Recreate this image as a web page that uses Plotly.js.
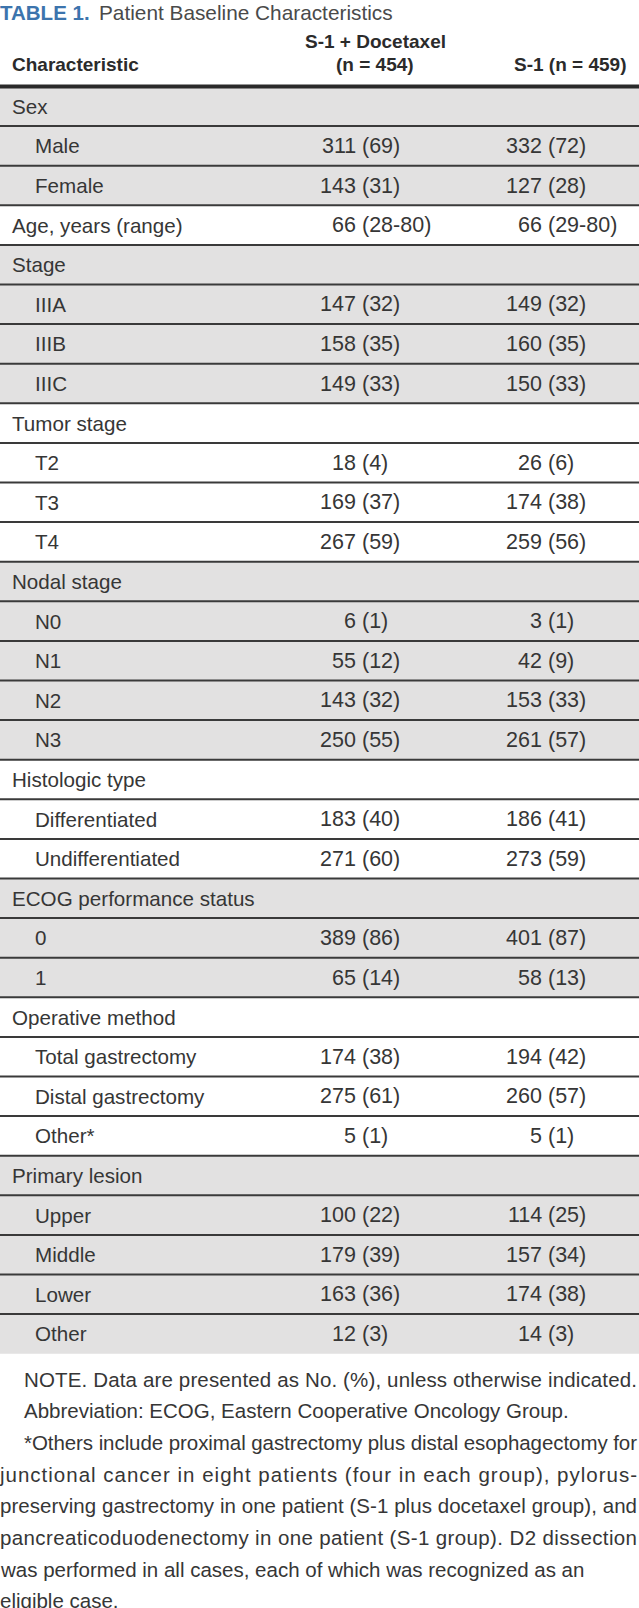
<!DOCTYPE html>
<html>
<head>
<meta charset="utf-8">
<script src="https://cdn.plot.ly/plotly-3.0.1.min.js"></script>
<style>html,body{margin:0;padding:0;background:#fff}#chart{width:639px;height:1608px}</style>
</head>
<body>
<div id="chart"></div>
<script>
// ---------------- DATA ----------------
const titleLabel = "TABLE 1.";
const titleText = "Patient Baseline Characteristics";
const headerCharacteristic = "Characteristic";
const headerCombo = ["S-1 + Docetaxel", "(n = 454)"];
const headerMono = "S-1 (n = 459)";

const characteristics = ["Sex","Male","Female","Age, years (range)","Stage","IIIA","IIIB","IIIC",
  "Tumor stage","T2","T3","T4","Nodal stage","N0","N1","N2","N3",
  "Histologic type","Differentiated","Undifferentiated","ECOG performance status","0","1",
  "Operative method","Total gastrectomy","Distal gastrectomy","Other*",
  "Primary lesion","Upper","Middle","Lower","Other"];
const indentLevel = [0,1,1,0,0,1,1,1,0,1,1,1,0,1,1,1,1,0,1,1,0,1,1,0,1,1,1,0,1,1,1,1];
const groupIndex  = [0,0,0,1,2,2,2,2,3,3,3,3,4,4,4,4,4,5,5,5,6,6,6,7,7,7,7,8,8,8,8,8];

const comboCount = ["","311","143","66","","147","158","149","","18","169","267","","6","55","143","250",
  "","183","271","","389","65","","174","275","5","","100","179","163","12"];
const comboPct = ["","(69)","(31)","(28-80)","","(32)","(35)","(33)","","(4)","(37)","(59)","","(1)","(12)","(32)","(55)",
  "","(40)","(60)","","(86)","(14)","","(38)","(61)","(1)","","(22)","(39)","(36)","(3)"];
const monoCount = ["","332","127","66","","149","160","150","","26","174","259","","3","42","153","261",
  "","186","273","","401","58","","194","260","5","","114","157","174","14"];
const monoPct = ["","(72)","(28)","(29-80)","","(32)","(35)","(33)","","(6)","(38)","(56)","","(1)","(9)","(33)","(57)",
  "","(41)","(59)","","(87)","(13)","","(42)","(57)","(1)","","(25)","(34)","(38)","(3)"];

const footnoteLines = [
  "NOTE. Data are presented as No. (%), unless otherwise indicated.",
  "Abbreviation: ECOG, Eastern Cooperative Oncology Group.",
  "*Others include proximal gastrectomy plus distal esophagectomy for",
  "junctional cancer in eight patients (four in each group), pylorus-",
  "preserving gastrectomy in one patient (S-1 plus docetaxel group), and",
  "pancreaticoduodenectomy in one patient (S-1 group). D2 dissection",
  "was performed in all cases, each of which was recognized as an",
  "eligible case."
];
const footnoteIndent = [1,1,1,0,0,0,0,0];
const footnoteJustify = [1,0,1,1,1,1,0,0];

// ---------------- LAYOUT ----------------
const W = 639, H = 1608;
const tableTopPx = 86.5, rowPx = 39.6;
const pxToRow = p => (p - tableTopPx) / rowPx - 0.5;
const nRows = characteristics.length;

const FONT = "Liberation Sans, Arial, sans-serif";
const labelFont = {family: FONT, size: 20.6, color: "#363636"};
const valueFont = {family: FONT, size: 21.5, color: "#363636"};
const footFont = {family: FONT, size: 20.5, color: "#363636"};
const boldFont = {family: FONT, size: 19, color: "#2b2b2b", weight: "bold"};
const grayFill = "#e2e1e1";
const lineColor = "#3a3a3a";

const shapes = [];
const annotations = [];

// row backgrounds (alternating by group)
for (let i = 0; i < nRows; i++) {
  if (groupIndex[i] % 2 === 0) {
    shapes.push({type: "rect", xref: "x", yref: "y", x0: 0, x1: W, y0: i - 0.5, y1: i + 0.5,
      fillcolor: grayFill, line: {width: 0}, layer: "below"});
  }
}
// row separators
for (let i = 0; i < nRows - 1; i++) {
  shapes.push({type: "line", xref: "x", yref: "y", x0: 0, x1: W, y0: i + 0.5, y1: i + 0.5,
    line: {color: lineColor, width: 2}});
}
// header rule
shapes.push({type: "line", xref: "x", yref: "y", x0: 0, x1: W, y0: -0.5, y1: -0.5,
  line: {color: "#2a2a2a", width: 4}});

function ann(x, y, text, xanchor, font) {
  annotations.push({xref: "x", yref: "y", x: x, y: y, text: text, xanchor: xanchor, yanchor: "middle",
    showarrow: false, font: font, borderpad: 0, borderwidth: 0});
}

// title
ann(0, pxToRow(12.5), "<b>" + titleLabel + "</b>", "left", {family: FONT, size: 20.5, color: "#3c74ad", weight: "bold"});
ann(99, pxToRow(12.5), titleText, "left", {family: FONT, size: 20.8, color: "#4a4a4a"});

// header
ann(12, pxToRow(64), "<b>" + headerCharacteristic + "</b>", "left", boldFont);
ann(375, pxToRow(41), "<b>" + headerCombo[0] + "</b>", "center", boldFont);
ann(375, pxToRow(64), "<b>" + headerCombo[1] + "</b>", "center", boldFont);
ann(626, pxToRow(64), "<b>" + headerMono + "</b>", "right", boldFont);

// body
const col2Split = 359, col3Split = 545, gap = 6;
for (let i = 0; i < nRows; i++) {
  ann(indentLevel[i] ? 35 : 12, i, characteristics[i], "left", labelFont);
  if (comboCount[i]) {
    ann(col2Split - gap / 2, i, comboCount[i], "right", valueFont);
    ann(col2Split + gap / 2, i, comboPct[i], "left", valueFont);
  }
  if (monoCount[i]) {
    ann(col3Split - gap / 2, i, monoCount[i], "right", valueFont);
    ann(col3Split + gap / 2, i, monoPct[i], "left", valueFont);
  }
}

// footnotes
const footStartPx = 1379, footStepPx = 31.7;
const footAnnStart = annotations.length;
footnoteLines.forEach((line, k) => {
  ann(footnoteIndent[k] ? 24 : 0, pxToRow(footStartPx + k * footStepPx), line, "left", footFont);
});

const layout = {
  width: W, height: H,
  margin: {l: 0, r: 0, t: 0, b: 0},
  paper_bgcolor: "#ffffff", plot_bgcolor: "#ffffff",
  xaxis: {range: [0, W], visible: false, fixedrange: true},
  yaxis: {range: [pxToRow(H), pxToRow(0)], visible: false, fixedrange: true},
  shapes: shapes,
  annotations: annotations,
  showlegend: false
};

Plotly.newPlot("chart", [], layout, {staticPlot: true, displayModeBar: false}).then(gd => {
  // justify footnote lines that span the full width (like the printed paragraph)
  const texts = gd.querySelectorAll("g.annotation text.annotation-text");
  footnoteLines.forEach((line, k) => {
    if (!footnoteJustify[k]) return;
    const t = texts[footAnnStart + k];
    if (!t) return;
    const bb = t.getBBox();
    const startX = footnoteIndent[k] ? 24 : 0;
    const target = 637 - startX;
    t.setAttribute("text-anchor", "start");
    t.setAttribute("x", bb.x);
    t.setAttribute("textLength", target);
    t.setAttribute("lengthAdjust", "spacing");
  });
});
</script>
</body>
</html>
